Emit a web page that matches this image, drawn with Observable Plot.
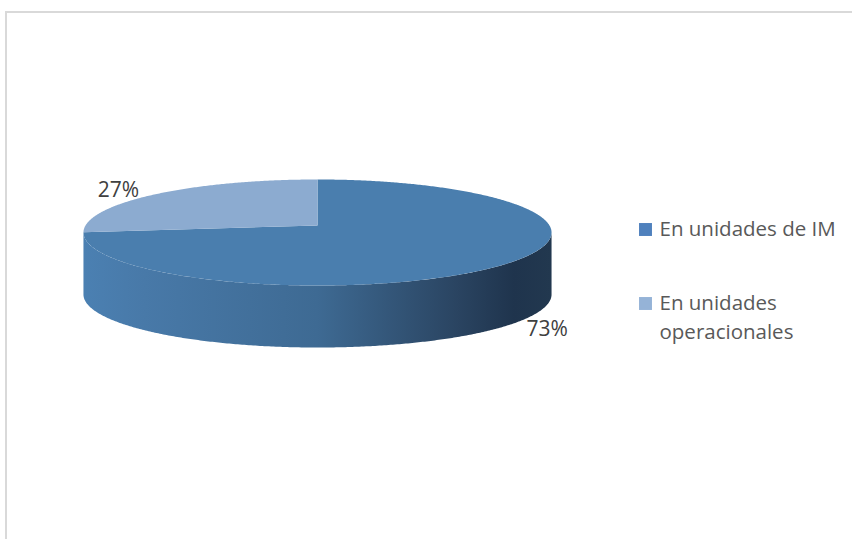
<!DOCTYPE html>
<html>
<head>
<meta charset="utf-8">
<script src="https://cdn.jsdelivr.net/npm/d3@7"></script>
<script src="https://cdn.jsdelivr.net/npm/@observablehq/plot@0.6"></script>
<style>
  html, body { margin: 0; padding: 0; background: #ffffff; }
  #wrap { position: relative; width: 852px; height: 539px; overflow: hidden; background: #ffffff; }
  #wrap svg { position: absolute; left: 0; top: 0; }
  #border { position: absolute; left: 5px; top: 11px; width: 900px; height: 600px; border-left: 2px solid #d9d9d9; border-top: 2px solid #d9d9d9; pointer-events: none; }
</style>
</head>
<body>
<div id="wrap"><div id="border"></div></div>
<script>
// ---- data ----
const categories = ["En unidades de IM", "En unidades operacionales"];
const values = [73, 27];
const valueLabels = ["73%", "27%"];
const topColors = ["#4a7eae", "#8cabd0"];
const legendColors = ["#4f81bd", "#95b3d7"];
const lightSideColor = "#7f9cc0";

// ---- layout of the tilted pie (perspective) ----
const W = 852, H = 539;
const cx = 317, cy0 = 225, rx = 232, ry = 52.1, k = 0.132, depth = 62;
const fontFamily = "'Open Sans', 'Noto Sans', sans-serif";

function project(phi, dz = 0) {
  const u = Math.sin(phi), v = -Math.cos(phi);
  const s = 1 / (1 - k * v);
  return {x: cx + rx * u * s, y: cy0 + ry * v * s + dz, u, v};
}
function arcPoints(a0, a1, dz) {
  const n = Math.max(2, Math.ceil(Math.abs(a1 - a0) / (Math.PI / 360)));
  const pts = [];
  for (let i = 0; i <= n; i++) pts.push(project(a0 + (a1 - a0) * i / n, dz));
  return pts;
}

const arcs = d3.pie().sort(null).value(d => d)(values);
const visLo = Math.acos(-k), visHi = 2 * Math.PI - Math.acos(-k);

const marks = [];
// gradient definition
marks.push(() => {
  const defs = d3.create("svg:defs");
  const g = defs.append("linearGradient").attr("id", "sideGrad").attr("x1", 0).attr("x2", 1).attr("y1", 0).attr("y2", 0);
  [[0, "#4b80b2"], [0.13, "#4879a8"], [0.5, "#3e6a93"], [0.8, "#2a4461"], [0.92, "#1f344d"], [1, "#22384f"]]
    .forEach(([o, c]) => g.append("stop").attr("offset", o).attr("stop-color", c));
  return defs.node();
});

// side walls
arcs.forEach((a, i) => {
  const lo = Math.max(a.startAngle, visLo), hi = Math.min(a.endAngle, visHi);
  if (hi - lo > 1e-4) {
    const pts = arcPoints(lo, hi, 0).concat(arcPoints(hi, lo, depth));
    marks.push(Plot.line(pts, {x: "x", y: "y", fill: i === 0 ? "url(#sideGrad)" : lightSideColor, stroke: "none", curve: "linear-closed"}));
  }
});
// top faces
arcs.forEach((a, i) => {
  const pts = [{x: cx, y: cy0}].concat(arcPoints(a.startAngle, a.endAngle, 0));
  marks.push(Plot.line(pts, {x: "x", y: "y", fill: topColors[i], stroke: "none", curve: "linear-closed"}));
});

// percentage labels
const labelData = arcs.map((a, i) => {
  const p = project((a.startAngle + a.endAngle) / 2, 0);
  const dz = p.v > 0 ? depth : 0;
  return {x: p.x + p.u * 52, y: p.y + dz + p.v * 6, text: valueLabels[i]};
});
marks.push(Plot.text(labelData, {x: "x", y: "y", text: "text", fill: "#404040", fontSize: 21, fontFamily, textAnchor: "middle", lineAnchor: "middle"}));

// legend
const fsLeg = 20.5;
const legendData = categories.map((c, i) => ({name: c, color: legendColors[i], yc: 229 + i * 74}));
marks.push(Plot.dot(legendData, {x: () => 645, y: "yc", symbol: "square", r: 7.3, fill: "color", stroke: "none"}));
marks.push(Plot.text(legendData, {x: () => 659, y: d => d.yc - 15, text: "name", fill: "#595959", fontSize: fsLeg, fontFamily, textAnchor: "start", lineAnchor: "top", lineWidth: 9, lineHeight: 1.45}));

const chart = Plot.plot({
  width: W, height: H,
  margin: 0,
  x: {domain: [0, W], range: [0, W], axis: null},
  y: {domain: [0, H], range: [0, H], axis: null},
  color: {type: "identity"},
  style: {background: "transparent", fontFamily},
  marks
});
const wrap = document.getElementById("wrap");
wrap.insertBefore(chart, wrap.firstChild);
</script>
</body>
</html>
